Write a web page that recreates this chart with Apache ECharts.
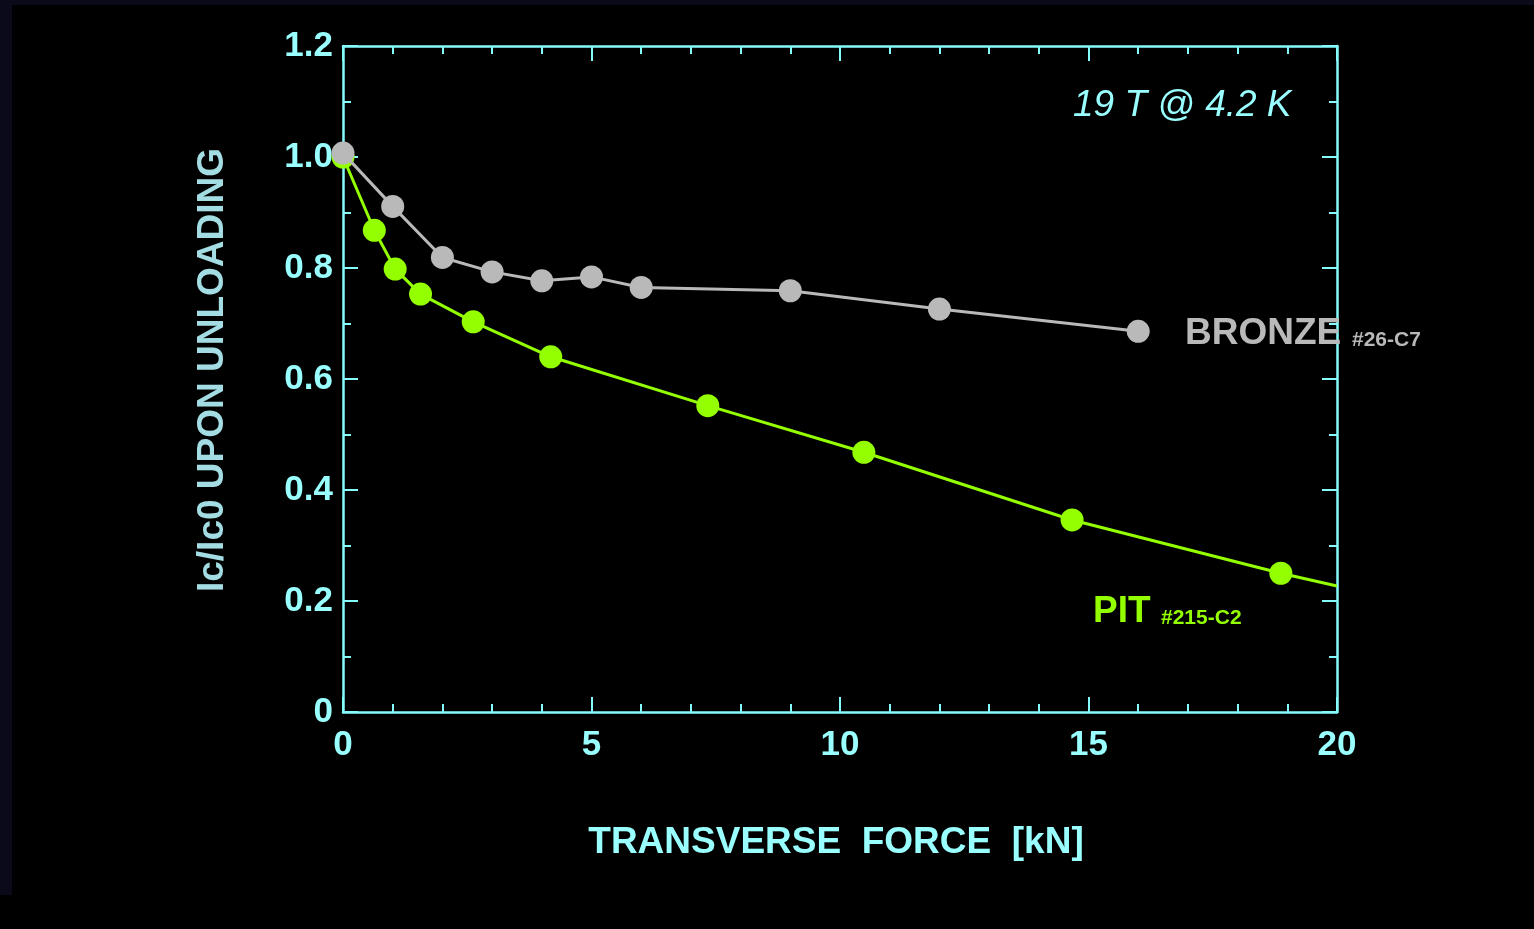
<!DOCTYPE html>
<html>
<head>
<meta charset="utf-8">
<script src="https://cdn.jsdelivr.net/npm/echarts@6/dist/echarts.min.js"></script>
<style>
  html, body { margin: 0; padding: 0; background: #000; }
  #chart { width: 1534px; height: 929px; }
</style>
</head>
<body>
<div id="chart"></div>
<script>
// Transverse force [kN] vs normalised critical current after unloading
const bronzeForce = [0, 1, 2, 3, 4, 5, 6, 9, 12, 16];
const bronzeIc    = [1.007, 0.911, 0.819, 0.793, 0.777, 0.784, 0.765, 0.759, 0.726, 0.686];

const pitForce = [0, 0.63, 1.05, 1.56, 2.62, 4.18, 7.34, 10.48, 14.67, 18.87, 20];
const pitIc    = [1.0, 0.868, 0.798, 0.753, 0.703, 0.640, 0.552, 0.468, 0.346, 0.250, 0.227];
// the last PIT entry only continues the line to the frame edge (no marker)
const pitMarkerCount = 10;

const xTicks = [0, 5, 10, 15, 20];
const yTicks = [0, 0.2, 0.4, 0.6, 0.8, 1.0, 1.2];

const CYAN = '#99ffff';
const AXIS = '#86fbfb';
const GREEN = '#94ff00';
const GRAY = '#b9b9b9';
const FONT = '"Liberation Sans", Arial, sans-serif';

const zip = (xs, ys) => xs.map((x, i) => [x, ys[i]]);

const chart = echarts.init(document.getElementById('chart'));

function frameAxis(extra) {
  return Object.assign({
    type: 'value',
    axisLine: { show: true, onZero: false, lineStyle: { color: AXIS, width: 2.5 } },
    axisTick: { show: true, inside: true, length: 15, lineStyle: { color: AXIS, width: 2 } },
    minorTick: { show: true, splitNumber: 5, length: 8, lineStyle: { color: AXIS, width: 2 } },
    splitLine: { show: false },
    minorSplitLine: { show: false }
  }, extra);
}

const yMinor = { show: true, splitNumber: 2, length: 8, lineStyle: { color: AXIS, width: 2 } };

chart.setOption({
  backgroundColor: '#000',
  animation: false,
  grid: { left: 343, top: 46, right: 197, bottom: 217, containLabel: false },
  xAxis: [
    frameAxis({
      min: xTicks[0], max: xTicks[xTicks.length - 1], interval: xTicks[1] - xTicks[0],
      position: 'bottom',
      axisLabel: { color: CYAN, fontFamily: FONT, fontWeight: 'bold', fontSize: 35, margin: 16 }
    }),
    frameAxis({
      min: xTicks[0], max: xTicks[xTicks.length - 1], interval: xTicks[1] - xTicks[0],
      position: 'top',
      axisLabel: { show: false }
    })
  ],
  yAxis: [
    frameAxis({
      min: yTicks[0], max: yTicks[yTicks.length - 1], interval: 0.2,
      position: 'left',
      minorTick: yMinor,
      axisLabel: {
        color: CYAN, fontFamily: FONT, fontWeight: 'bold', fontSize: 35, margin: 10,
        formatter: v => (v === 0 ? '0' : v.toFixed(1))
      }
    }),
    frameAxis({
      min: yTicks[0], max: yTicks[yTicks.length - 1], interval: 0.2,
      position: 'right',
      minorTick: yMinor,
      axisLabel: { show: false }
    })
  ],
  series: [
    {
      name: 'PIT',
      type: 'line',
      data: zip(pitForce, pitIc).map((p, i) =>
        i < pitMarkerCount ? p : { value: p, symbol: 'none' }),
      symbol: 'circle',
      symbolSize: 23,
      showAllSymbol: true,
      lineStyle: { color: GREEN, width: 3 },
      itemStyle: { color: GREEN },
      clip: false,
      z: 2
    },
    {
      name: 'BRONZE',
      type: 'line',
      data: zip(bronzeForce, bronzeIc),
      symbol: 'circle',
      symbolSize: 23,
      showAllSymbol: true,
      lineStyle: { color: GRAY, width: 3 },
      itemStyle: { color: GRAY },
      clip: false,
      z: 3
    }
  ],
  graphic: [
    // dark border band along the top and left edges
    { type: 'rect', left: 0, top: 0, shape: { width: 1534, height: 5 }, style: { fill: '#0a0a1a' }, silent: true },
    { type: 'rect', left: 0, top: 0, shape: { width: 12, height: 895 }, style: { fill: '#0a0a1a' }, silent: true },
    // axis titles
    {
      type: 'text', x: 836, y: 843,
      style: {
        text: 'TRANSVERSE  FORCE  [kN]', fill: CYAN, font: 'bold 37px ' + FONT,
        textAlign: 'center', textVerticalAlign: 'middle'
      }
    },
    {
      type: 'text', x: 213, y: 370, rotation: Math.PI / 2,
      style: {
        text: 'Ic/Ic0 UPON UNLOADING', fill: '#a3dde3', font: 'bold 37px ' + FONT,
        textAlign: 'center', textVerticalAlign: 'middle'
      }
    },
    // annotations
    {
      type: 'text', x: 1073, y: 106,
      style: { text: '19 T @ 4.2 K', fill: CYAN, font: 'italic 37px ' + FONT, textVerticalAlign: 'middle' }
    },
    {
      type: 'text', x: 1185, y: 334, z: 10,
      style: { text: 'BRONZE', fill: GRAY, font: 'bold 37px ' + FONT, textVerticalAlign: 'middle' }
    },
    {
      type: 'text', x: 1352, y: 340, z: 10,
      style: { text: '#26-C7', fill: GRAY, font: 'bold 21px ' + FONT, textVerticalAlign: 'middle' }
    },
    {
      type: 'text', x: 1093, y: 612,
      style: { text: 'PIT', fill: GREEN, font: 'bold 37px ' + FONT, textVerticalAlign: 'middle' }
    },
    {
      type: 'text', x: 1161, y: 618,
      style: { text: '#215-C2', fill: GREEN, font: 'bold 21px ' + FONT, textVerticalAlign: 'middle' }
    }
  ]
});
</script>
</body>
</html>
